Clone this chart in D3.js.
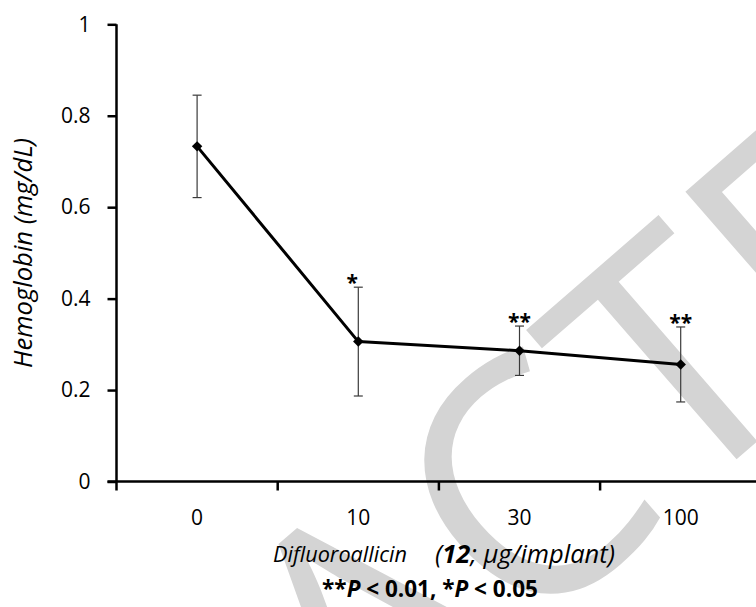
<!DOCTYPE html>
<html>
<head>
<meta charset="utf-8">
<script src="https://cdn.jsdelivr.net/npm/d3@7"></script>
<style>
  html, body { margin: 0; padding: 0; background: #fff; }
  svg { display: block; }
  text { font-family: "Open Sans", "Noto Sans", sans-serif; }
</style>
</head>
<body>
<svg id="chart" width="756" height="607"></svg>
<script>
// ---- data ----
const categories = ["0", "10", "30", "100"];
const means = [0.733, 0.306, 0.286, 0.256];
const errors = [0.112, 0.119, 0.054, 0.082];
const significance = ["", "*", "**", "**"];
const yTicks = [0, 0.2, 0.4, 0.6, 0.8, 1];
const yTickLabels = ["0", "0.2", "0.4", "0.6", "0.8", "1"];

const svg = d3.select("#chart");
const W = 756, H = 607;
svg.append("rect").attr("width", W).attr("height", H).attr("fill", "#fff");

function fitText(sel, target) {
  const n = sel.node();
  const fs = parseFloat(sel.attr("font-size"));
  const w = n.getComputedTextLength();
  if (w > 0) sel.attr("font-size", fs * target / w);
}

// ---- watermark ----
const wm = svg.append("g").attr("transform", "translate(600,578) rotate(-41)");
const wmText = wm.append("text")
  .attr("font-family", "Liberation Serif")
  .attr("font-size", 330)
  .attr("fill", "#d4d4d4")
  .text("RETRACTED");
{
  const n = wmText.node();
  const s = n.getStartPositionOfChar(5).x;
  const e = n.getEndPositionOfChar(5).x;
  wmText.attr("x", -(s + e) / 2);
}

const pLeft = 116.5, pTop = 24.3, pBottom = 481.5;
const x = d3.scaleBand().domain(categories).range([pLeft, pLeft + 4 * 161.2]).padding(0);
const y = d3.scaleLinear().domain([0, 1]).range([pBottom, pTop]);

// y axis
const yAxis = d3.axisLeft(y).tickValues(yTicks).tickSize(9).tickPadding(17)
  .tickFormat((d, i) => yTickLabels[i]);
const gy = svg.append("g").attr("transform", `translate(${pLeft},0)`).call(yAxis);
gy.select(".domain").attr("stroke", "#000").attr("stroke-width", 2.5)
  .attr("d", `M0,${pBottom}V${pTop}`);
gy.selectAll(".tick line").attr("stroke", "#000").attr("stroke-width", 2.5);
gy.selectAll(".tick text").attr("font-size", 21).attr("fill", "#000")
  .attr("font-family", "Open Sans");

// x axis
const gx = svg.append("g").attr("transform", `translate(0,${pBottom})`);
gx.append("line").attr("x1", pLeft - 9).attr("x2", W + 10).attr("y1", 0).attr("y2", 0)
  .attr("stroke", "#000").attr("stroke-width", 2.5);
const boundaries = categories.map(c => x(c)).concat([x(categories[3]) + x.bandwidth()]);
gx.selectAll("line.tk").data(boundaries).join("line").attr("class", "tk")
  .attr("x1", d => d).attr("x2", d => d).attr("y1", 0).attr("y2", 9)
  .attr("stroke", "#000").attr("stroke-width", 2.5);
gx.selectAll("text.lbl").data(categories).join("text").attr("class", "lbl")
  .attr("x", d => x(d) + x.bandwidth() / 2).attr("y", 43)
  .attr("text-anchor", "middle").attr("font-size", 21).attr("fill", "#000")
  .text(d => d);

// error bars
const cx = c => x(c) + x.bandwidth() / 2;
const eb = svg.append("g").attr("stroke", "#3a3a3a").attr("stroke-width", 1.2);
categories.forEach((c, i) => {
  const xc = cx(c), y1 = y(means[i] + errors[i]), y0 = y(means[i] - errors[i]);
  eb.append("line").attr("x1", xc).attr("x2", xc).attr("y1", y1).attr("y2", y0);
  eb.append("line").attr("x1", xc - 4.5).attr("x2", xc + 4.5).attr("y1", y1).attr("y2", y1);
  eb.append("line").attr("x1", xc - 4.5).attr("x2", xc + 4.5).attr("y1", y0).attr("y2", y0);
});

// line
const line = d3.line().x((d, i) => cx(categories[i])).y(d => y(d));
svg.append("path").datum(means).attr("d", line).attr("fill", "none")
  .attr("stroke", "#000").attr("stroke-width", 3).attr("stroke-linejoin", "round");

// markers
svg.selectAll("path.mk").data(means).join("path").attr("class", "mk")
  .attr("d", d3.symbol(d3.symbolDiamond2, 70)())
  .attr("transform", (d, i) => `translate(${cx(categories[i])},${y(d)})`)
  .attr("fill", "#000");

// significance stars
svg.selectAll("text.sig").data(significance).join("text").attr("class", "sig")
  .attr("x", (d, i) => cx(categories[i]) + (d === "*" ? -6 : 0))
  .attr("y", (d, i) => y(means[i] + errors[i]) + 3)
  .attr("text-anchor", "middle").attr("font-size", 21).attr("font-weight", "bold")
  .attr("fill", "#000").text(d => d);

// y label
const ylab = svg.append("text").attr("transform", "translate(32,253) rotate(-90)")
  .attr("text-anchor", "middle").attr("font-size", 18).attr("font-style", "italic")
  .attr("fill", "#000").text("Hemoglobin (mg/dL)");
fitText(ylab, 230);

// x label
const xl1 = svg.append("text").attr("x", 340).attr("y", 562).attr("text-anchor", "middle")
  .attr("font-size", 18).attr("font-style", "italic").attr("fill", "#000")
  .text("Difluoroallicin");
fitText(xl1, 134);
const xl2 = svg.append("text").attr("x", 525).attr("y", 563).attr("text-anchor", "middle")
  .attr("font-size", 19).attr("font-style", "italic").attr("fill", "#000");
xl2.append("tspan").text("(");
xl2.append("tspan").attr("font-weight", "bold").text("12");
xl2.append("tspan").text("; μg/implant)");
fitText(xl2, 180);

// p-value note
const note = svg.append("text").attr("x", 430).attr("y", 597).attr("text-anchor", "middle")
  .attr("font-size", 19).attr("font-weight", "bold").attr("fill", "#000");
note.append("tspan").text("**");
note.append("tspan").attr("font-style", "italic").text("P");
note.append("tspan").text(" < 0.01, *");
note.append("tspan").attr("font-style", "italic").text("P");
note.append("tspan").text(" < 0.05");
fitText(note, 216);
</script>
</body>
</html>
